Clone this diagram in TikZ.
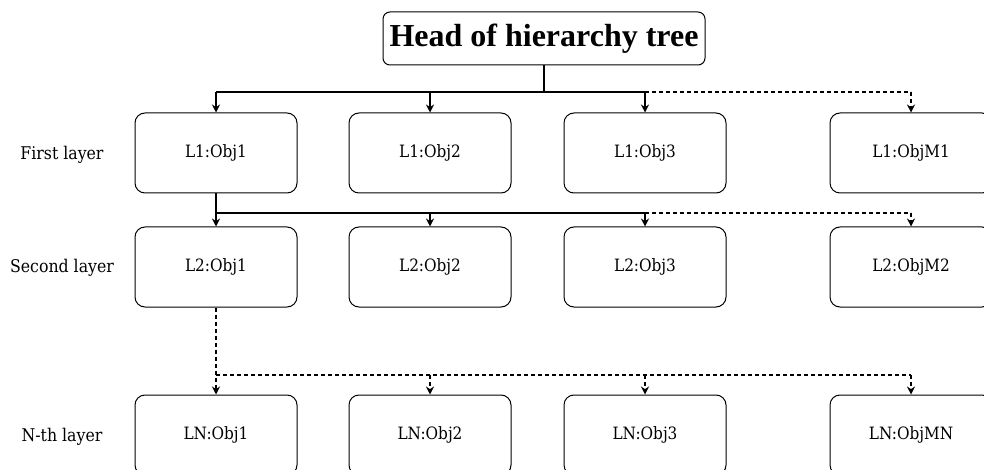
\documentclass[tikz,border=0pt]{standalone}
\usepackage{fontspec}
\setmainfont{DejaVu Serif Condensed}
\newfontfamily\headfont{Liberation Serif}
\usetikzlibrary{arrows.meta}
\begin{document}
\begin{tikzpicture}[x=1pt,y=-1pt,
  obj/.style={draw, line width=1pt, rounded corners=10pt, minimum width=162pt, minimum height=80pt,
    inner sep=0pt, font=\fontsize{17}{19}\selectfont},
  lab/.style={font=\fontsize{17.5}{19}\selectfont},
  conn/.style={line width=1.2pt},
  tip/.style={conn, -{Stealth[length=8pt,width=8pt]}},
  dtip/.style={tip, dashed, dash pattern=on 4pt off 3pt},
  dline/.style={conn, dashed, dash pattern=on 4pt off 3pt}]
\useasboundingbox (0,0) rectangle (984,470);

% head of the tree
\node[draw, line width=1pt, rounded corners=7pt, minimum width=322pt, minimum height=53pt,
  inner sep=0pt, font=\headfont\bfseries\fontsize{32}{34}\selectfont] (head) at (544,38.5) {Head of hierarchy tree};

% layer labels
\node[lab] (t1) at (62,155) {First layer};
\node[lab] (t2) at (62,268) {Second layer};
\node[lab] (tn) at (62,437) {N-th layer};

% first layer
\node[obj] (a1) at (216,153) {L1:Obj1};
\node[obj] (a2) at (430,153) {L1:Obj2};
\node[obj] (a3) at (645,153) {L1:Obj3};
\node[obj] (am) at (911,153) {L1:ObjM1};

% second layer
\node[obj] (b1) at (216,267) {L2:Obj1};
\node[obj] (b2) at (430,267) {L2:Obj2};
\node[obj] (b3) at (645,267) {L2:Obj3};
\node[obj] (bm) at (911,267) {L2:ObjM2};

% N-th layer
\node[obj] (c1) at (216,435) {LN:Obj1};
\node[obj] (c2) at (430,435) {LN:Obj2};
\node[obj] (c3) at (645,435) {LN:Obj3};
\node[obj] (cm) at (911,435) {LN:ObjMN};

% bus lines
\coordinate (h0) at (head.south |- 0,92);
\coordinate (h1) at (a1.north |- 0,92);
\coordinate (h3) at (a3.north |- 0,92);
\coordinate (hm) at (am.north |- 0,92);
\coordinate (s1) at (b1.north |- 0,213);
\coordinate (s3) at (b3.north |- 0,213);
\coordinate (sm) at (bm.north |- 0,213);
\coordinate (n1) at (c1.north |- 0,375);
\coordinate (nm) at (cm.north |- 0,375);

% head to first layer
\draw[conn] (head.south) -- (h0);
\draw[conn] (h1) -- (h3);
\draw[dline] (h3) -- (hm);
\draw[tip] (h1) -- (a1.north);
\draw[tip] (a2.north |- h1) -- (a2.north);
\draw[tip] (h3) -- (a3.north);
\draw[dtip] (hm) -- (am.north);

% first to second layer
\draw[tip] (a1.south) -- (b1.north);
\draw[conn] (s1) -- (s3);
\draw[dline] (s3) -- (sm);
\draw[tip] (b2.north |- s1) -- (b2.north);
\draw[tip] (s3) -- (b3.north);
\draw[dtip] (sm) -- (bm.north);

% second to N-th layer
\draw[dtip] (b1.south) -- (c1.north);
\draw[dline] (n1) -- (nm);
\draw[dtip] (c2.north |- n1) -- (c2.north);
\draw[dtip] (c3.north |- n1) -- (c3.north);
\draw[dtip] (nm) -- (cm.north);
\end{tikzpicture}
\end{document}
